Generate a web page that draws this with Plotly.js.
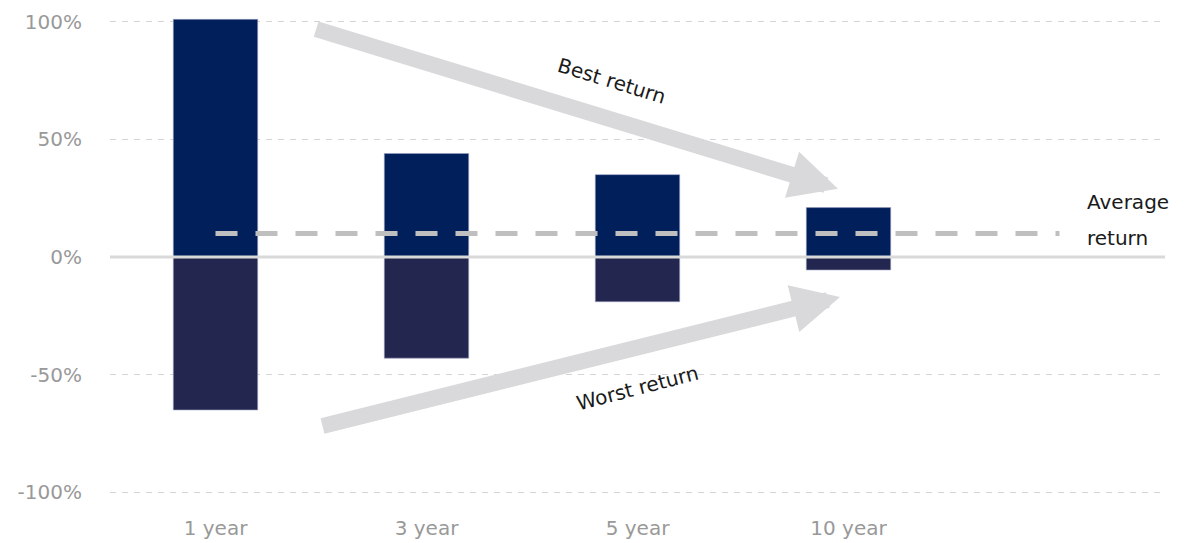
<!DOCTYPE html>
<html>
<head>
<meta charset="utf-8">
<script src="https://cdn.plot.ly/plotly-3.0.1.min.js"></script>
<style>html,body{margin:0;padding:0;background:#fff;}#chart{width:1185px;height:543px;}</style>
</head>
<body>
<div id="chart"></div>
<script>
// Data
const categories = ["1 year", "3 year", "5 year", "10 year"];
const bestReturn = [101, 44, 35, 21];
const worstReturn = [-65, -43, -19, -5.5];
const averageReturn = 10;
const yTickVals = [-100, -50, 0, 50, 100];
const yTickText = ["-100%", "-50%", "0%", "50%", "100%"];

const xPos = categories.map((c, i) => i);
const handFont = {family: "DejaVu Sans, sans-serif", size: 20, color: "#1a1a1a"};
const arrowColor = "#d9d9dc";

const traces = [
  {type: "bar", x: xPos, y: bestReturn, width: 0.4, name: "Best return",
   marker: {color: "#001f5b", line: {color: "#9aa0bd", width: 0.6}}, hoverinfo: "y"},
  {type: "bar", x: xPos, y: worstReturn, width: 0.4, name: "Worst return",
   marker: {color: "#23264f", line: {color: "#9aa0bd", width: 0.6}}, hoverinfo: "y"},
  {type: "scatter", mode: "lines", x: [0, categories.length], y: [averageReturn, averageReturn],
   line: {color: "#bfbfbf", width: 5, dash: "22px,18px"}, hoverinfo: "skip", name: "Average"}
];

const layout = {
  width: 1185, height: 543,
  margin: {l: 110, r: 20, t: 17, b: 46},
  paper_bgcolor: "#fff", plot_bgcolor: "#fff",
  showlegend: false,
  barmode: "overlay",
  xaxis: {
    range: [-0.5, 4.5], tickvals: xPos, ticktext: categories,
    showgrid: false, zeroline: false, showline: false, ticks: "",
    tickfont: {family: "DejaVu Sans, sans-serif", size: 20, color: "#999999"},
    ticklabelstandoff: 17
  },
  yaxis: {
    range: [-102, 102], tickvals: yTickVals, ticktext: yTickText,
    showgrid: true, gridcolor: "#d4d4d4", gridwidth: 1, griddash: "6px,6px",
    zeroline: false, showline: false, ticks: "",
    tickfont: {family: "DejaVu Sans, sans-serif", size: 20, color: "#999999"},
    ticklabelstandoff: 27
  },
  shapes: [
    {type: "line", xref: "paper", x0: 0, x1: 1, yref: "y", y0: 0, y1: 0,
     line: {color: "#d9d9d9", width: 3}, layer: "above"}
  ],
  annotations: [
    {x: 2.95, y: 29, ax: 0.47, ay: 97, xref: "x", yref: "y", axref: "x", ayref: "y",
     text: "", showarrow: true, arrowhead: 2, arrowsize: 0.6, arrowwidth: 16, arrowcolor: arrowColor, standoff: 0},
    {x: 2.96, y: -17, ax: 0.5, ay: -72, xref: "x", yref: "y", axref: "x", ayref: "y",
     text: "", showarrow: true, arrowhead: 2, arrowsize: 0.6, arrowwidth: 16, arrowcolor: arrowColor, standoff: 0},
    {x: 1.88, y: 75, xref: "x", yref: "y", text: "Best return", showarrow: false,
     textangle: 17, font: handFont},
    {x: 2.0, y: -55.5, xref: "x", yref: "y", text: "Worst return", showarrow: false,
     textangle: -14.5, font: handFont},
    {x: 4.12, y: 23.5, xref: "x", yref: "y", text: "Average", showarrow: false,
     xanchor: "left", font: handFont},
    {x: 4.12, y: 8, xref: "x", yref: "y", text: "return", showarrow: false,
     xanchor: "left", font: handFont}
  ]
};

Plotly.newPlot("chart", traces, layout, {displayModeBar: false, staticPlot: true});
</script>
</body>
</html>
